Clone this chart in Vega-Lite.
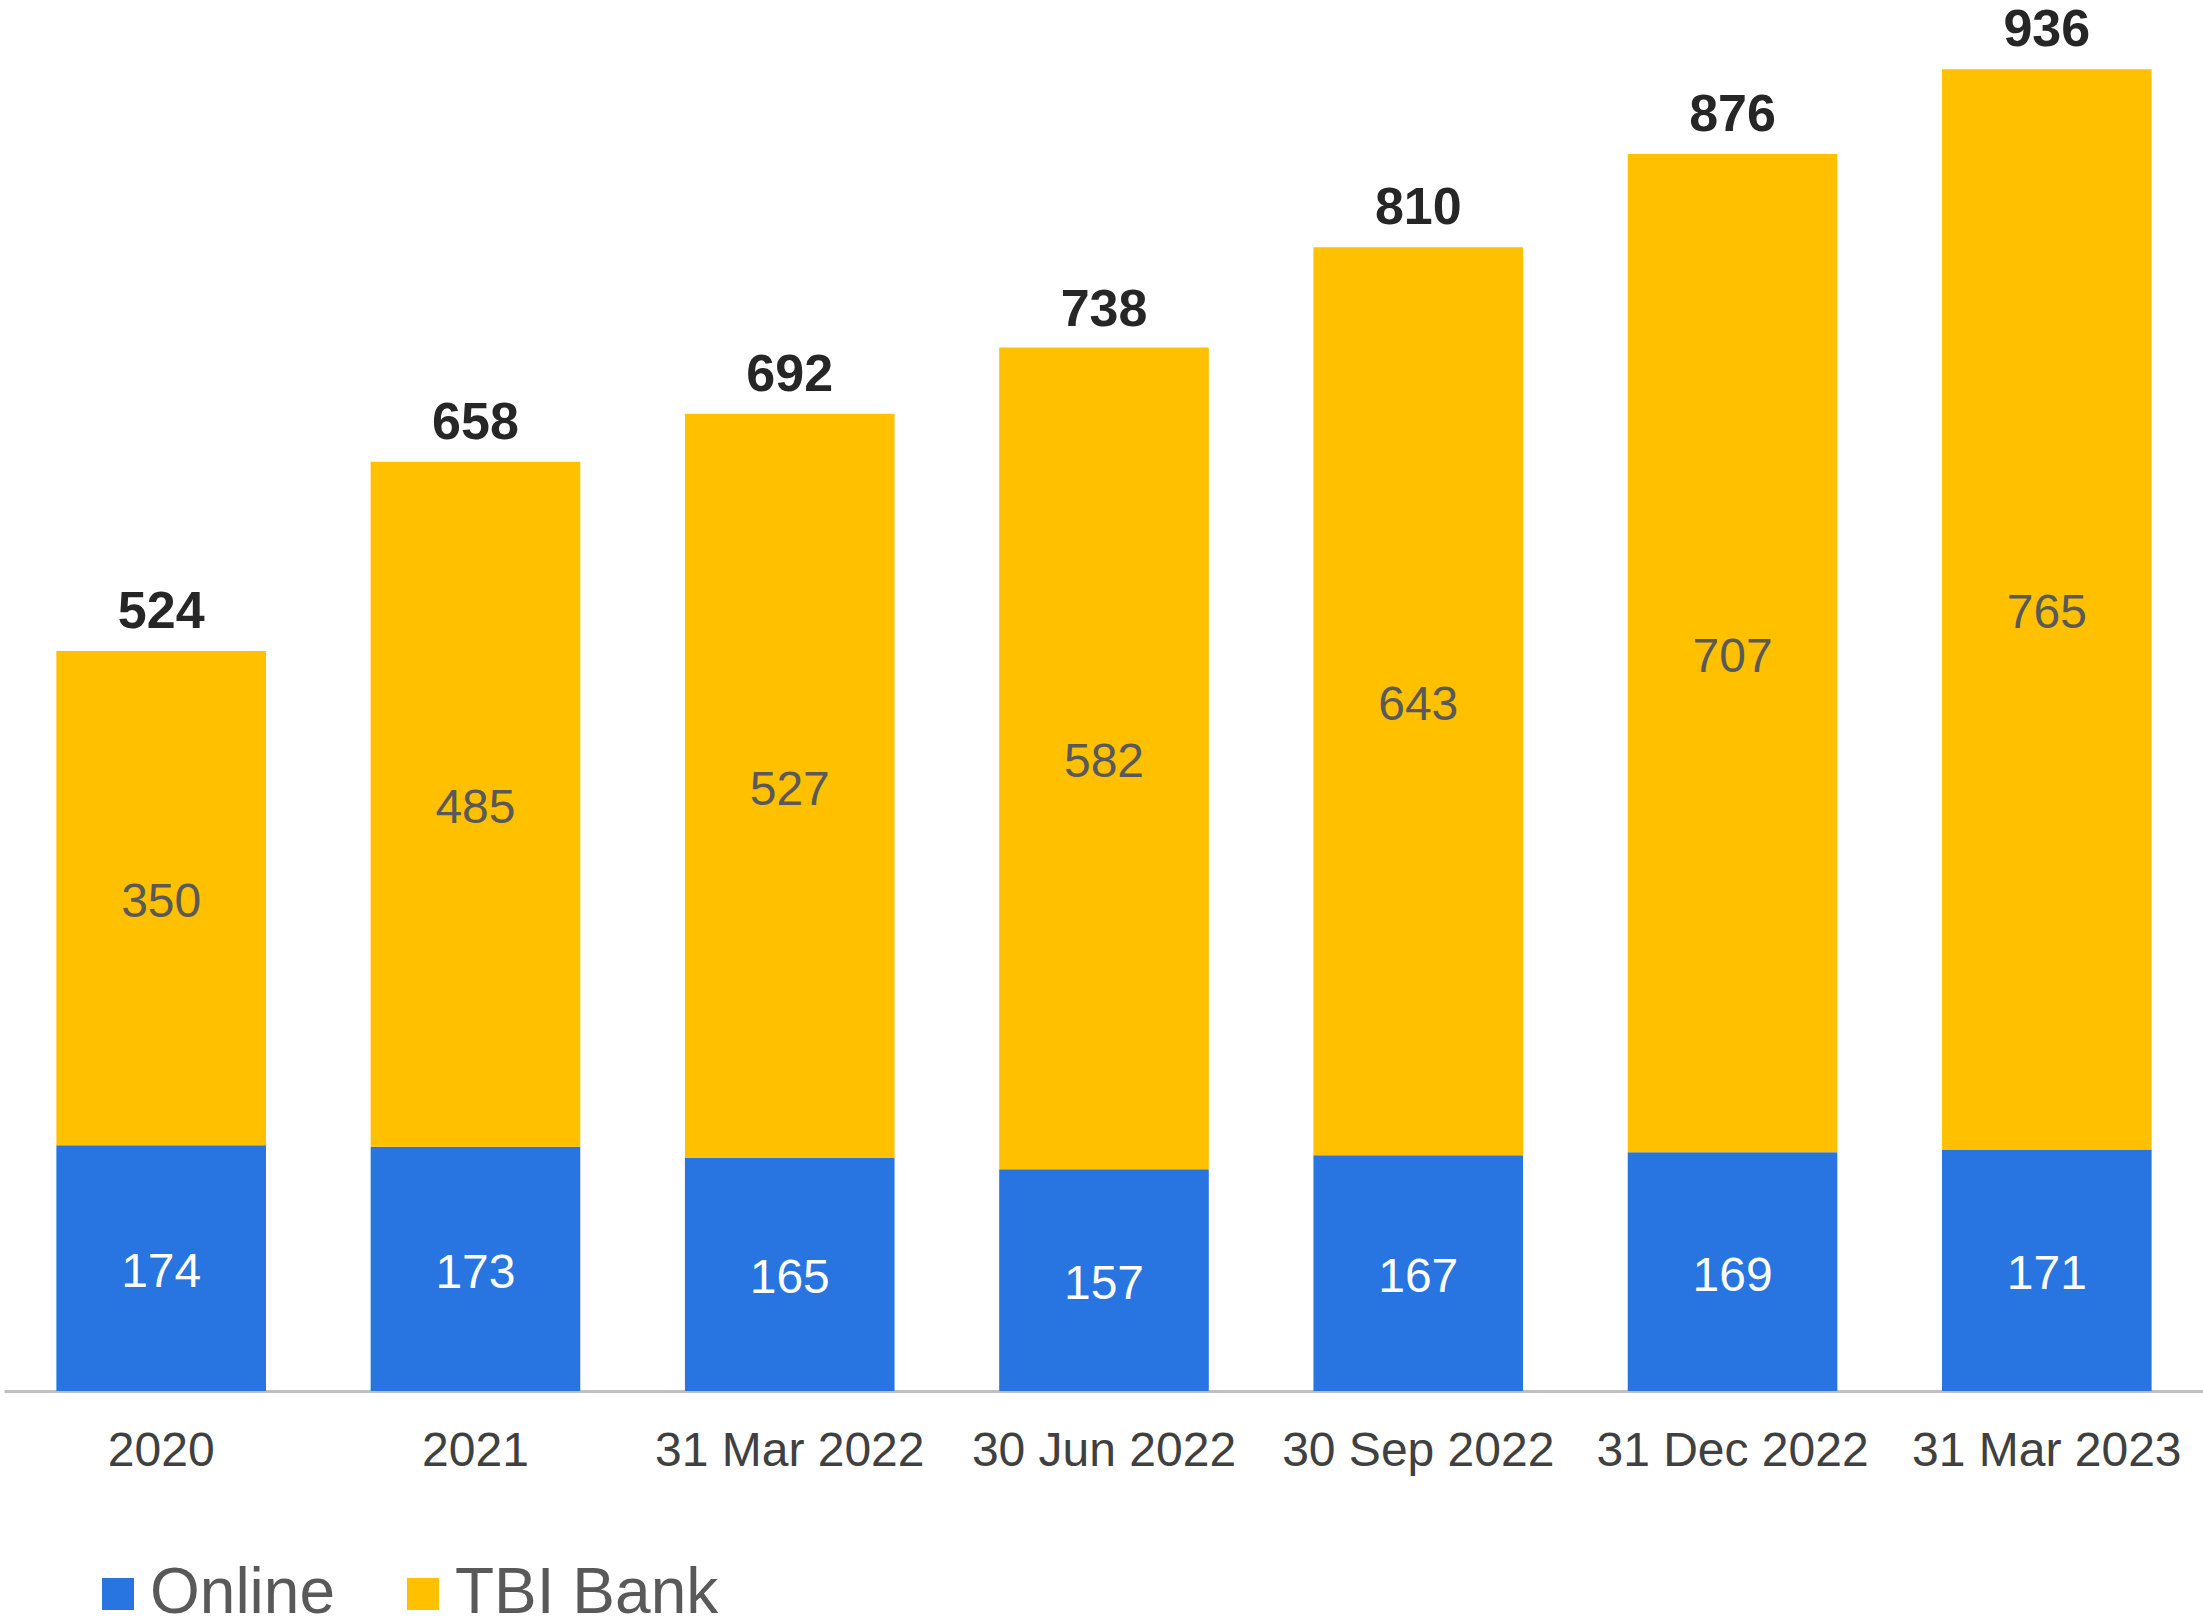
{
  "$schema": "https://vega.github.io/schema/vega-lite/v6.json",
  "width": 2200,
  "height": 1391,
  "autosize": "none",
  "padding": {"left": 4, "top": 0, "right": 0, "bottom": 232},
  "background": "white",
  "config": {"view": {"stroke": null}, "font": "Liberation Sans"},
  "datasets": {
    "segments": [
      {"category": "2020", "series": "Online", "value": 174},
      {"category": "2020", "series": "TBI Bank", "value": 350},
      {"category": "2021", "series": "Online", "value": 173},
      {"category": "2021", "series": "TBI Bank", "value": 485},
      {"category": "31 Mar 2022", "series": "Online", "value": 165},
      {"category": "31 Mar 2022", "series": "TBI Bank", "value": 527},
      {"category": "30 Jun 2022", "series": "Online", "value": 157},
      {"category": "30 Jun 2022", "series": "TBI Bank", "value": 582},
      {"category": "30 Sep 2022", "series": "Online", "value": 167},
      {"category": "30 Sep 2022", "series": "TBI Bank", "value": 643},
      {"category": "31 Dec 2022", "series": "Online", "value": 169},
      {"category": "31 Dec 2022", "series": "TBI Bank", "value": 707},
      {"category": "31 Mar 2023", "series": "Online", "value": 171},
      {"category": "31 Mar 2023", "series": "TBI Bank", "value": 765}
    ],
    "totals": [
      {"category": "2020", "total": 524},
      {"category": "2021", "total": 658},
      {"category": "31 Mar 2022", "total": 692},
      {"category": "30 Jun 2022", "total": 738},
      {"category": "30 Sep 2022", "total": 810},
      {"category": "31 Dec 2022", "total": 876},
      {"category": "31 Mar 2023", "total": 936}
    ]
  },
  "layer": [
    {
      "data": {"name": "segments"},
      "transform": [
        {"stack": "value", "groupby": ["category"], "sort": [{"field": "series", "order": "ascending"}], "as": ["y0", "y1"]}
      ],
      "mark": {"type": "bar"},
      "encoding": {
        "x": {
          "field": "category",
          "type": "nominal",
          "scale": {
            "domain": ["2020", "2021", "31 Mar 2022", "30 Jun 2022", "30 Sep 2022", "31 Dec 2022", "31 Mar 2023"],
            "paddingInner": 0.333,
            "paddingOuter": 0.1667
          },
          "axis": {
            "title": null,
            "labelFontSize": 48,
            "labelColor": "#404040",
            "labelAngle": 0,
            "ticks": false,
            "tickSize": 0,
            "labelPadding": 36,
            "labelLimit": 0,
            "labelOverlap": false,
            "domainColor": "#bfbfbf",
            "domainWidth": 3,
            "grid": false,
            "labelFont": "Liberation Sans"
          }
        },
        "y": {"field": "y1", "type": "quantitative", "scale": {"domain": [0, 985], "nice": false, "zero": true}, "axis": null},
        "y2": {"field": "y0"},
        "color": {
          "field": "series",
          "type": "nominal",
          "scale": {"domain": ["Online", "TBI Bank"], "range": ["#2874E0", "#FFC000"]},
          "legend": {
            "orient": "none",
            "legendX": 82,
            "legendY": 1562,
            "direction": "horizontal",
            "title": null,
            "labelFontSize": 64,
            "labelColor": "#595959",
            "labelFont": "Liberation Sans",
            "labelLimit": 0,
            "symbolType": "square",
            "symbolSize": 1024,
            "symbolStrokeWidth": 0,
            "symbolOpacity": 1,
            "labelOffset": 0,
            "columnPadding": 56,
            "padding": 0
          }
        }
      }
    },
    {
      "data": {"name": "segments"},
      "transform": [
        {"stack": "value", "groupby": ["category"], "sort": [{"field": "series", "order": "ascending"}], "as": ["y0", "y1"]},
        {"fold": ["y0", "y1"], "as": ["edge", "pos"]},
        {"aggregate": [{"op": "mean", "field": "pos", "as": "mid"}, {"op": "max", "field": "value", "as": "value"}], "groupby": ["category", "series"]}
      ],
      "mark": {"type": "text", "fontSize": 48, "baseline": "middle", "dy": 5, "font": "Liberation Sans"},
      "encoding": {
        "x": {"field": "category", "type": "nominal"},
        "y": {"field": "mid", "type": "quantitative"},
        "text": {"field": "value", "type": "quantitative"},
        "color": {"condition": {"test": "datum.series === 'Online'", "value": "#ffffff"}, "value": "#595959"}
      }
    },
    {
      "data": {"name": "totals"},
      "mark": {"type": "text", "fontSize": 52, "fontWeight": "bold", "baseline": "alphabetic", "dy": -23, "color": "#262626", "font": "Liberation Sans"},
      "encoding": {
        "x": {"field": "category", "type": "nominal"},
        "y": {"field": "total", "type": "quantitative"},
        "text": {"field": "total", "type": "quantitative"}
      }
    }
  ]
}
